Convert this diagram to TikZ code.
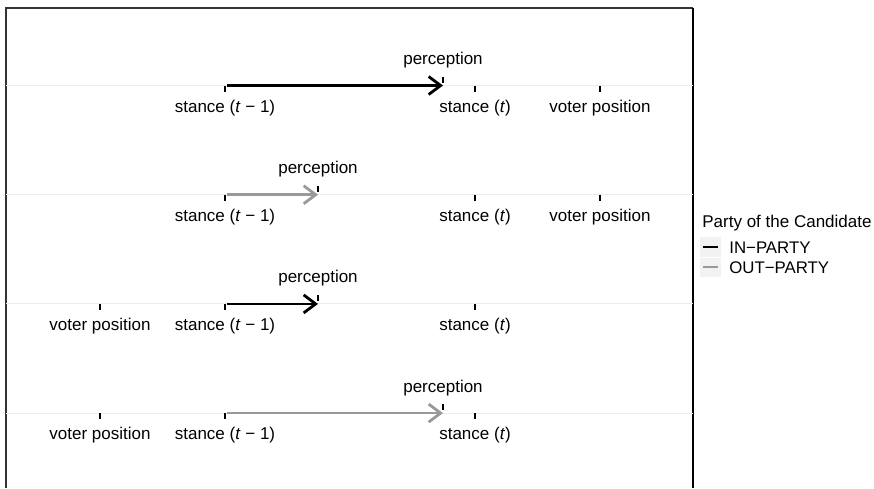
\documentclass[tikz,border=0pt]{standalone}
\usepackage{fontspec}
\setmainfont{Liberation Sans}
\usetikzlibrary{arrows.meta}
\definecolor{outgray}{HTML}{999999}
\definecolor{gridgray}{HTML}{EBEBEB}
\definecolor{keygray}{HTML}{F2F2F2}
\definecolor{framegray}{HTML}{333333}

\begin{document}
\begin{tikzpicture}[x=0.5pt, y=-0.5pt,
    axlbl/.style={font=\fontsize{8.5}{10}\selectfont, inner sep=0pt, anchor=base},
    leglbl/.style={font=\fontsize{8.4}{10}\selectfont, inner sep=0pt, anchor=base west},
    tickmark/.style={line width=1pt, black},
    percarrow/.style={line width=1.25pt, -{Straight Barb[length=6pt, width=9pt, line width=1.4pt]}},
    gridline/.style={line width=0.5pt, gridgray}]
    \useasboundingbox (0,0) rectangle (874,488);

    % panel frame
    \draw[framegray, line width=0.8pt] (6,488) -- (6,8) -- (693,8);
    \draw[black, line width=0.8pt] (693,8) -- (693,488);

    % one row per scenario
    \foreach \row/\clr/\px/\vx in {1/black/443/600, 2/outgray/318/600,
                                   3/black/318/100, 4/outgray/443/100} {
      \pgfmathsetmacro{\yy}{85.5+109.2*(\row-1)}
      \draw[gridline] (6,\yy) -- (693,\yy);

      % ticks below the line
      \foreach \xx in {225, 475, \vx} {
        \draw[tickmark] (\xx,\yy) -- (\xx,\yy+6);
      }
      % tick above the line for the perception
      \draw[tickmark] (\px,\yy-9) -- (\px,\yy-3);

      \node[axlbl] (stprev\row) at (225,\yy+26.5) {stance (\textit{t} − 1)};
      \node[axlbl] (stnow\row) at (475,\yy+26.5) {stance (\textit{t})};
      \node[axlbl] (voter\row) at (\vx,\yy+26.5) {voter position};
      \node[axlbl] (plbl\row) at (\px,\yy-21) {perception};

      % shift of the stance
      \coordinate (from\row) at (227,\yy);
      \coordinate (perc\row) at (\px,\yy);
      \draw[percarrow, \clr] (from\row) -- (perc\row);
    }

    % legend
    \node[font=\fontsize{8.5}{10}\selectfont, inner sep=0pt, anchor=base west]
      (legtitle) at (702,227) {Party of the Candidate};
    \fill[keygray] (700,237) rectangle (721,256.5);
    \fill[keygray] (700,257.5) rectangle (721,277);
    \coordinate (inA) at (703,247);
    \coordinate (inB) at (718,247);
    \coordinate (outA) at (703,267);
    \coordinate (outB) at (718,267);
    \draw[line width=1.25pt, black] (inA) -- (inB);
    \draw[line width=1.25pt, outgray] (outA) -- (outB);
    \node[leglbl] (inlbl) at (729,253) {IN−PARTY};
    \node[leglbl] (outlbl) at (729,273) {OUT−PARTY};
\end{tikzpicture}
\end{document}
